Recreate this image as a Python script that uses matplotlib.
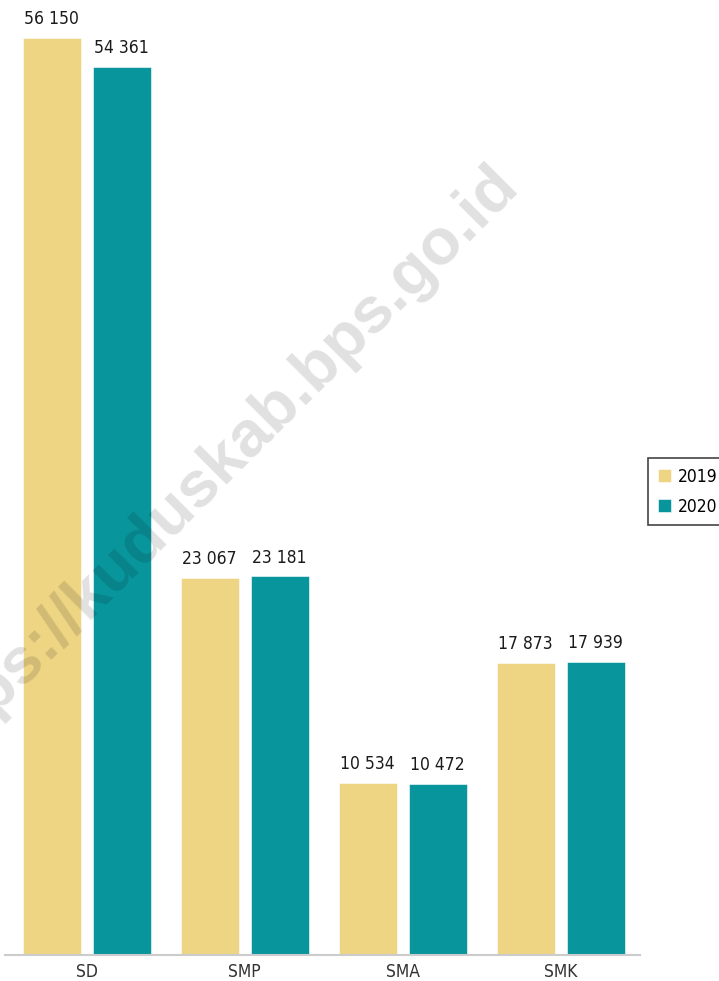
import numpy as np
import matplotlib
matplotlib.use("Agg")
import matplotlib.pyplot as plt
from matplotlib import font_manager as fm

# data
categories = ["SD", "SMP", "SMA", "SMK"]
years = ["2019", "2020"]
values_2019 = [56150, 23067, 10534, 17873]
values_2020 = [54361, 23181, 10472, 17939]

colors = ["#EDD584", "#08959C"]

# look for a narrow font, the reference uses a condensed face
narrow = None
for f in fm.fontManager.ttflist:
    n = f.name.lower()
    if ("narrow" in n or "condensed" in n or str(f.stretch).lower() in ("condensed", "semi-condensed", "extra-condensed")) \
            and f.style == "normal" and f.weight in (400, "normal", "regular"):
        narrow = f
        break

if narrow is not None:
    fp = fm.FontProperties(fname=narrow.fname, size=12.5)
else:
    fp = fm.FontProperties(family="DejaVu Sans", stretch="condensed", size=11.5)


def fmt(v):
    return f"{v:,}".replace(",", " ")


fig = plt.figure(figsize=(7.19, 9.81), dpi=100)
ax = fig.add_axes([5 / 719, 26 / 981, 635 / 719, 955 / 981])

x = np.arange(len(categories))
width = 0.367
offset = 0.2215

for i, (vals, year) in enumerate(zip([values_2019, values_2020], years)):
    pos = x + (i * 2 - 1) * offset
    bars = ax.bar(pos, vals, width=width, color=colors[i], label=year,
                  edgecolor="white", linewidth=0.4)
    for b, v in zip(bars, vals):
        ax.annotate(fmt(v), (b.get_x() + b.get_width() / 2, v),
                    xytext=(0, 10), textcoords="offset points",
                    ha="center", va="baseline", fontproperties=fp,
                    color="#1a1a1a", annotation_clip=False)

ax.set_xlim(-0.516, 3.503)
ax.set_ylim(0, 58480)
ax.set_xticks(x)
ax.set_xticklabels(categories, fontproperties=fp, color="#333333")
ax.tick_params(axis="x", length=0, pad=6)
ax.set_yticks([])
for s in ["top", "right", "left"]:
    ax.spines[s].set_visible(False)
ax.spines["bottom"].set_color("#cccccc")
ax.spines["bottom"].set_linewidth(1.5)

leg = ax.legend(loc="upper left", bbox_to_anchor=(648 / 719, 1 - 458 / 981),
                bbox_transform=fig.transFigure, borderaxespad=0,
                prop=fp, handlelength=0.8, handleheight=0.8,
                handletextpad=0.35, labelspacing=0.7, borderpad=0.55,
                fancybox=False, framealpha=1)
leg.get_frame().set_edgecolor("#444444")
leg.get_frame().set_linewidth(1.2)

# watermark
fig.text(215 / 719, 1 - 468 / 981, "https://kuduskab.bps.go.id",
         rotation=45, rotation_mode="anchor", ha="center", va="center",
         fontsize=47, fontweight="bold", family="Liberation Sans",
         color="black", alpha=0.12)

plt.savefig("out.png", dpi=100)
